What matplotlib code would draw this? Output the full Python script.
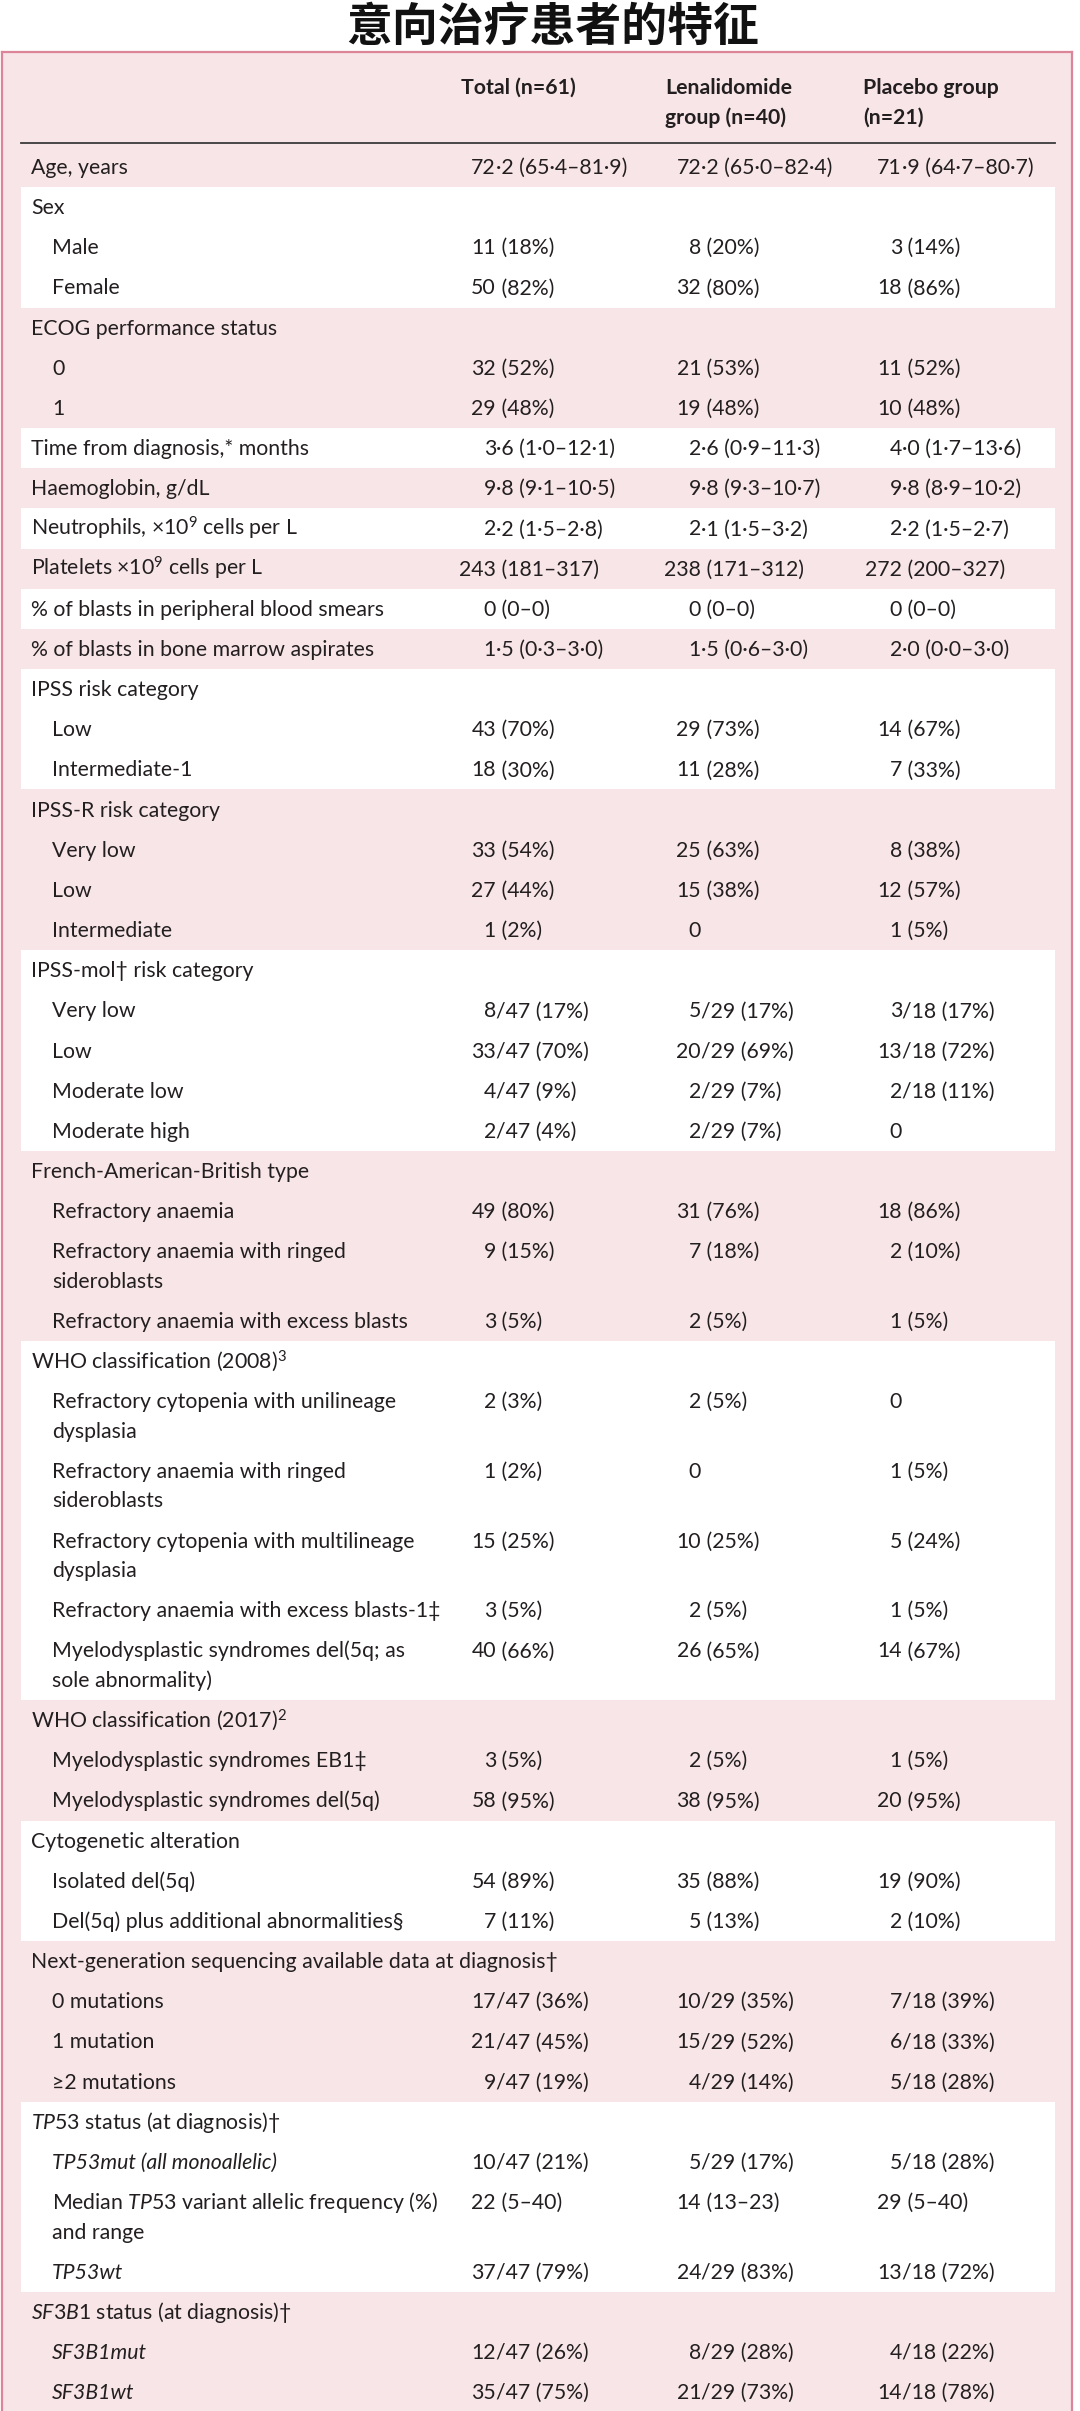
import re
import matplotlib
matplotlib.use("Agg")
import matplotlib.pyplot as plt
from matplotlib.patches import Rectangle

# ---------------- data ----------------
title = "意向治疗患者的特征"
col_headers = ["Total (n=61)", "Lenalidomide\ngroup (n=40)", "Placebo group\n(n=21)"]

labels = [
    "Age, years", "Sex", "Male", "Female",
    "ECOG performance status", "0", "1",
    "Time from diagnosis,* months", "Haemoglobin, g/dL",
    "Neutrophils, ×10$^{9}$ cells per L", "Platelets ×10$^{9}$ cells per L",
    "% of blasts in peripheral blood smears", "% of blasts in bone marrow aspirates",
    "IPSS risk category", "Low", "Intermediate-1",
    "IPSS-R risk category", "Very low", "Low", "Intermediate",
    "IPSS-mol† risk category", "Very low", "Low", "Moderate low", "Moderate high",
    "French-American-British type", "Refractory anaemia",
    "Refractory anaemia with ringed\nsideroblasts",
    "Refractory anaemia with excess blasts",
    "WHO classification (2008)$^{3}$",
    "Refractory cytopenia with unilineage\ndysplasia",
    "Refractory anaemia with ringed\nsideroblasts",
    "Refractory cytopenia with multilineage\ndysplasia",
    "Refractory anaemia with excess blasts-1‡",
    "Myelodysplastic syndromes del(5q; as\nsole abnormality)",
    "WHO classification (2017)$^{2}$",
    "Myelodysplastic syndromes EB1‡", "Myelodysplastic syndromes del(5q)",
    "Cytogenetic alteration", "Isolated del(5q)", "Del(5q) plus additional abnormalities§",
    "Next-generation sequencing available data at diagnosis†",
    "0 mutations", "1 mutation", "≥2 mutations",
    "$\\mathit{TP53}$ status (at diagnosis)†",
    "TP53mut (all monoallelic)",
    "Median $\\mathit{TP53}$ variant allelic frequency (%)\nand range",
    "TP53wt",
    "$\\mathit{SF3B1}$ status (at diagnosis)†",
    "SF3B1mut", "SF3B1wt",
]

indent = [0, 0, 1, 1, 0, 1, 1, 0, 0, 0, 0, 0, 0,
          0, 1, 1, 0, 1, 1, 1, 0, 1, 1, 1, 1,
          0, 1, 1, 1, 0, 1, 1, 1, 1, 1, 0, 1, 1,
          0, 1, 1, 0, 1, 1, 1, 0, 1, 1, 1, 0, 1, 1]

italic_rows = [46, 48, 50, 51]

total = [
    "72·2 (65·4–81·9)", "", "11 (18%)", "50 (82%)",
    "", "32 (52%)", "29 (48%)",
    "3·6 (1·0–12·1)", "9·8 (9·1–10·5)", "2·2 (1·5–2·8)", "243 (181–317)",
    "0 (0–0)", "1·5 (0·3–3·0)",
    "", "43 (70%)", "18 (30%)",
    "", "33 (54%)", "27 (44%)", "1 (2%)",
    "", "8/47 (17%)", "33/47 (70%)", "4/47 (9%)", "2/47 (4%)",
    "", "49 (80%)", "9 (15%)", "3 (5%)",
    "", "2 (3%)", "1 (2%)", "15 (25%)", "3 (5%)", "40 (66%)",
    "", "3 (5%)", "58 (95%)",
    "", "54 (89%)", "7 (11%)",
    "", "17/47 (36%)", "21/47 (45%)", "9/47 (19%)",
    "", "10/47 (21%)", "22 (5–40)", "37/47 (79%)",
    "", "12/47 (26%)", "35/47 (75%)",
]

lenalidomide = [
    "72·2 (65·0–82·4)", "", "8 (20%)", "32 (80%)",
    "", "21 (53%)", "19 (48%)",
    "2·6 (0·9–11·3)", "9·8 (9·3–10·7)", "2·1 (1·5–3·2)", "238 (171–312)",
    "0 (0–0)", "1·5 (0·6–3·0)",
    "", "29 (73%)", "11 (28%)",
    "", "25 (63%)", "15 (38%)", "0",
    "", "5/29 (17%)", "20/29 (69%)", "2/29 (7%)", "2/29 (7%)",
    "", "31 (76%)", "7 (18%)", "2 (5%)",
    "", "2 (5%)", "0", "10 (25%)", "2 (5%)", "26 (65%)",
    "", "2 (5%)", "38 (95%)",
    "", "35 (88%)", "5 (13%)",
    "", "10/29 (35%)", "15/29 (52%)", "4/29 (14%)",
    "", "5/29 (17%)", "14 (13–23)", "24/29 (83%)",
    "", "8/29 (28%)", "21/29 (73%)",
]

placebo = [
    "71·9 (64·7–80·7)", "", "3 (14%)", "18 (86%)",
    "", "11 (52%)", "10 (48%)",
    "4·0 (1·7–13·6)", "9·8 (8·9–10·2)", "2·2 (1·5–2·7)", "272 (200–327)",
    "0 (0–0)", "2·0 (0·0–3·0)",
    "", "14 (67%)", "7 (33%)",
    "", "8 (38%)", "12 (57%)", "1 (5%)",
    "", "3/18 (17%)", "13/18 (72%)", "2/18 (11%)", "0",
    "", "18 (86%)", "2 (10%)", "1 (5%)",
    "", "0", "1 (5%)", "5 (24%)", "1 (5%)", "14 (67%)",
    "", "1 (5%)", "20 (95%)",
    "", "19 (90%)", "2 (10%)",
    "", "7/18 (39%)", "6/18 (33%)", "5/18 (28%)",
    "", "5/18 (28%)", "29 (5–40)", "13/18 (72%)",
    "", "4/18 (22%)", "14/18 (78%)",
]

# rows per shaded group (alternating pink / white)
group_sizes = [1, 3, 3, 1, 1, 1, 1, 1, 1, 3, 4, 5, 4, 6, 3, 3, 4, 4, 3]

# ---------------- style / layout ----------------
W, H = 1080, 2411
PINK = "#F8E5E7"
BORDER = "#DC8598"
TEXT = "#231F20"
FONT = ["Lato", "DejaVu Sans"]
FS = 15.3

plt.rcParams["mathtext.fontset"] = "custom"
plt.rcParams["mathtext.rm"] = "Lato"
plt.rcParams["mathtext.it"] = "Lato:italic"
plt.rcParams["mathtext.bf"] = "Lato:bold"

TOP = 52            # table border top
RULE_Y = 143        # header rule
X0, X1 = 21, 1055   # inner table extent
LABEL_X = 31
INDENT_X = 52
ANCHORS = [496, 701, 902]
HEAD_X = [461, 665, 863]
Y_FIRST = 167
STEP = 40.16
WRAP = 29.5
BASE = 7            # centre -> baseline offset

fig = plt.figure(figsize=(W / 100, H / 100), dpi=100)
ax = fig.add_axes([0, 0, 1, 1])
ax.set_xlim(0, W)
ax.set_ylim(H, 0)
ax.axis("off")

# background & border
ax.add_patch(Rectangle((2, TOP), 1070, H - TOP, fc=PINK, ec="none", zorder=0))
ax.plot([1.5, 1.5], [TOP, H], color=BORDER, lw=1.6, zorder=3)
ax.plot([1072, 1072], [TOP, H], color=BORDER, lw=1.6, zorder=3)
ax.plot([1.5, 1072], [TOP, TOP], color=BORDER, lw=1.6, zorder=3)

# title
ax.text(553, 28, title, ha="center", va="center", fontsize=33, fontweight="bold",
        family=["Noto Sans CJK SC", "DejaVu Sans"], color="#111111")

# headers
for hx, h in zip(HEAD_X, col_headers):
    for k, line in enumerate(h.split("\n")):
        ax.text(hx, 87 + BASE + k * 30, line, ha="left", va="baseline",
                fontsize=FS, fontweight="bold", family=FONT, color=TEXT)
ax.plot([X0, X1], [RULE_Y, RULE_Y], color="#3a3a3a", lw=1.3, zorder=3)

# row positions
ys = []
y = Y_FIRST
for i, lab in enumerate(labels):
    ys.append(y)
    nlines = lab.count("\n") + 1
    y += STEP + (nlines - 1) * WRAP

def row_last_line(i):
    return ys[i] + labels[i].count("\n") * WRAP

# shaded groups
start = 0
bounds = []
for g in group_sizes:
    end = start + g - 1
    top = RULE_Y if start == 0 else (row_last_line(start - 1) + ys[start]) / 2
    bot = H if end == len(labels) - 1 else (row_last_line(end) + ys[end + 1]) / 2
    bounds.append((top, bot))
    start = end + 1
for gi, (top, bot) in enumerate(bounds):
    if gi % 2 == 1:
        ax.add_patch(Rectangle((X0, top), X1 - X0, bot - top, fc="white", ec="none", zorder=1))

# rows
num_re = re.compile(r"^(\d+)(.*)$")
for i, lab in enumerate(labels):
    x = INDENT_X if indent[i] else LABEL_X
    style = "italic" if i in italic_rows else "normal"
    for k, line in enumerate(lab.split("\n")):
        ax.text(x, ys[i] + BASE + k * WRAP, line, ha="left", va="baseline",
                fontsize=FS, family=FONT, style=style, color=TEXT, zorder=4)
    for ax_x, col in zip(ANCHORS, (total, lenalidomide, placebo)):
        v = col[i]
        if not v:
            continue
        m = num_re.match(v)
        lead, rest = m.group(1), m.group(2)
        ax.text(ax_x, ys[i] + BASE, lead, ha="right", va="baseline",
                fontsize=FS, family=FONT, color=TEXT, zorder=4)
        if rest:
            ax.text(ax_x, ys[i] + BASE, rest, ha="left", va="baseline",
                    fontsize=FS, family=FONT, color=TEXT, zorder=4)

fig.savefig("out.png", dpi=100, facecolor="white")
